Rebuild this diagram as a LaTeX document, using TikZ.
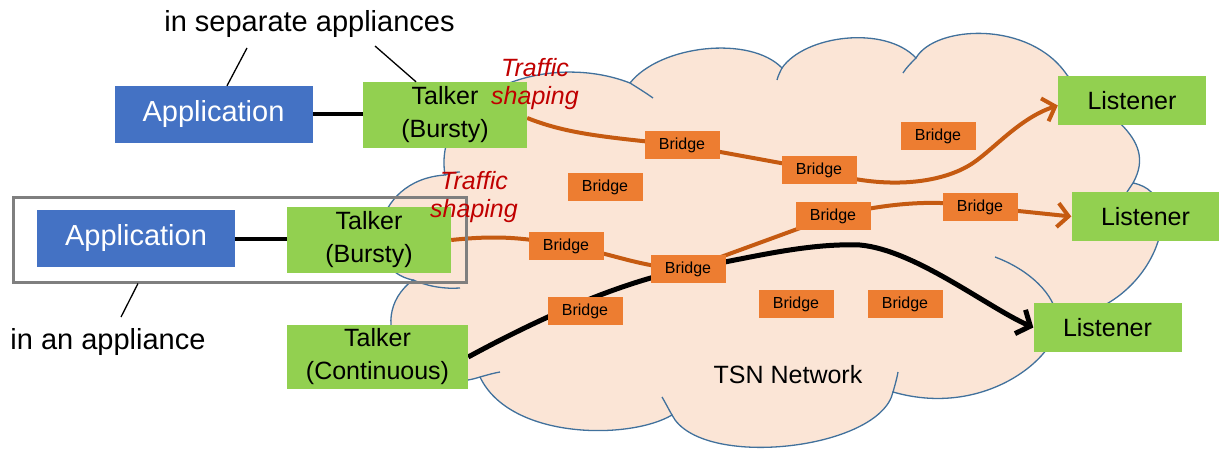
\documentclass[tikz,border=0pt]{standalone}
\usepackage{fontspec}
\setmainfont{Liberation Sans}
\usetikzlibrary{arrows.meta}
\definecolor{appblue}{HTML}{4472C4}
\definecolor{tgreen}{HTML}{92D050}
\definecolor{borange}{HTML}{ED7D31}
\definecolor{lineorange}{HTML}{C55A11}
\definecolor{cloudfill}{HTML}{FBE5D6}
\definecolor{cloudline}{HTML}{41719C}
\definecolor{tred}{HTML}{C00000}
\definecolor{boxgray}{HTML}{7F7F7F}
\pgfdeclarelayer{bg}
\pgfdeclarelayer{lines}
\pgfsetlayers{bg,lines,main}
\begin{document}
\begin{tikzpicture}[x=1pt,y=-1pt,
  appbox/.style={fill=appblue, draw=appblue, text=white, minimum width=197pt, minimum height=56pt, inner sep=0pt, font=\fontsize{29}{34}\selectfont},
  talkbox/.style={fill=tgreen, minimum width=164pt, minimum height=66pt, inner sep=0pt, align=center, font=\fontsize{25}{33}\selectfont},
  listbox/.style={fill=tgreen, minimum width=148pt, minimum height=49pt, inner sep=0pt, font=\fontsize{25}{30}\selectfont},
  bridgebox/.style={fill=borange, minimum width=75pt, minimum height=28pt, inner sep=0pt, font=\fontsize{16}{19}\selectfont},
  labeltext/.style={font=\fontsize{29}{34}\selectfont, inner sep=0pt},
  shapetext/.style={text=tred, align=center, inner sep=0pt, font=\fontsize{25}{28}\selectfont\itshape},
  flow/.style={draw=lineorange, line width=4pt},
  flowarrow/.style={flow, -{Straight Barb[length=11pt,width=24pt]}},
  blackflow/.style={draw=black, line width=5pt, -{Straight Barb[length=11pt,width=26pt]}},
  link/.style={draw=black, line width=4pt},
  leader/.style={draw=black, line width=1.3pt},
  cloudedge/.style={draw=cloudline, line width=1.3pt}
]
\useasboundingbox (0,0) rectangle (1219,452);

% cloud
\begin{pgfonlayer}{bg}
\path[fill=cloudfill, cloudedge]
 (413,280) .. controls (360,270) and (370,180) .. (445,175)
 .. controls (432,95) and (545,50) .. (630,83)
 .. controls (660,45) and (750,35) .. (782,68)
 .. controls (805,35) and (885,25) .. (916,58)
 .. controls (935,25) and (1030,20) .. (1067,75)
 .. controls (1097,111) and (1160,135) .. (1133,183)
 .. controls (1195,195) and (1150,315) .. (1057,318)
 .. controls (1065,350) and (990,420) .. (893,392)
 .. controls (880,450) and (700,470) .. (672,415)
 .. controls (630,440) and (510,440) .. (480,377)
 .. controls (410,400) and (360,320) .. (413,280) -- cycle;
\draw[cloudedge] (413,280) .. controls (430,287) and (445,289) .. (460,288);
\draw[cloudedge] (445,175) .. controls (450,173) and (455,172) .. (460,172);
\draw[cloudedge] (630,83) .. controls (638,88) and (646,93) .. (653,98);
\draw[cloudedge] (782,68) .. controls (780,72) and (778,76) .. (777,80);
\draw[cloudedge] (916,58) .. controls (911,63) and (906,68) .. (903,73);
\draw[cloudedge] (1133,183) .. controls (1131,186) and (1129,189) .. (1127,192);
\draw[cloudedge] (1057,318) .. controls (1055,295) and (1030,270) .. (995,257);
\draw[cloudedge] (893,392) .. controls (895,385) and (897,378) .. (898,372);
\draw[cloudedge] (672,415) .. controls (668,408) and (665,402) .. (662,397);
\draw[cloudedge] (480,377) .. controls (487,375) and (494,373) .. (500,372);
\end{pgfonlayer}

% appliance box
\node[draw=boxgray, line width=3pt, minimum width=453pt, minimum height=85pt, inner sep=0pt] (appl) at (239.5,239.5) {};

% applications and talkers
\node[appbox] (app1) at (213.5,114) {Application};
\node[talkbox] (t1) at (445,115) {Talker\\(Bursty)};
\node[appbox] (app2) at (136,238.5) {Application};
\node[talkbox] (t2) at (369,240) {Talker\\(Bursty)};
\node[talkbox, minimum width=181pt, minimum height=64pt] (t3) at (377.5,357) {Talker\\(Continuous)};

% listeners
\node[listbox] (l1) at (1132,100.5) {Listener};
\node[listbox] (l2) at (1145.5,216.5) {Listener};
\node[listbox] (l3) at (1107.5,327.5) {Listener};

% bridges
\node[bridgebox] (b1) at (682,145) {Bridge};
\node[bridgebox] (b2) at (819,170) {Bridge};
\node[bridgebox] (b3) at (938,136) {Bridge};
\node[bridgebox] (b4) at (605,187) {Bridge};
\node[bridgebox] (b5) at (833,216) {Bridge};
\node[bridgebox] (b6) at (980,207) {Bridge};
\node[bridgebox] (b7) at (566,246) {Bridge};
\node[bridgebox] (b8) at (688,269) {Bridge};
\node[bridgebox] (b9) at (585,311) {Bridge};
\node[bridgebox] (b10) at (796,304) {Bridge};
\node[bridgebox] (b11) at (905,304) {Bridge};

\node[font=\fontsize{25}{30}\selectfont, inner sep=0pt] (tsn) at (788,375) {TSN Network};

% connectors
\begin{pgfonlayer}{lines}
\draw[link] (app1.east) -- (t1.west |- app1.east);
\draw[link] (app2.east) -- (t2.west |- app2.east);
\draw[flowarrow] ([yshift=-3pt]t1.east) .. controls (565,133) and (600,137) .. (b1.center)
  -- (b2.center) .. controls (880,190) and (940,185) .. (973,163)
  .. controls (995,148) and (1020,118) .. ([yshift=-5pt]l1.west);
\draw[flowarrow] (t2.east) .. controls (490,236) and (520,236) .. (b7.center)
  .. controls (610,252) and (640,268) .. (b8.center) -- (b5.center)
  .. controls (880,205) and (930,198) .. (b6.center) -- (l2.west);
\draw[blackflow] (t3.east) .. controls (540,318) and (620,282) .. (b8.center)
  .. controls (750,258) and (805,243) .. (860,245)
  .. controls (915,250) and (987,307) .. (l3.west);
\end{pgfonlayer}

% traffic shaping labels
\node[shapetext] (ts1) at (535,84) {Traffic\\shaping};
\node[shapetext] (ts2) at (474,197) {Traffic\\shaping};

% labels and leaders
\node[labeltext, anchor=base] (sep) at (309.5,32) {in separate appliances};
\node[labeltext, anchor=base] (inapp) at (108,349) {in an appliance};
\coordinate (sepa) at (247,48);
\coordinate (sepb) at (375,46);
\coordinate (inapa) at (121,317);
\draw[leader] (sepa) -- ([xshift=13.5pt]app1.north);
\draw[leader] (sepb) -- ([xshift=-29pt]t1.north);
\draw[leader] (inapa) -- ([xshift=-101.5pt]appl.south);
\end{tikzpicture}
\end{document}
